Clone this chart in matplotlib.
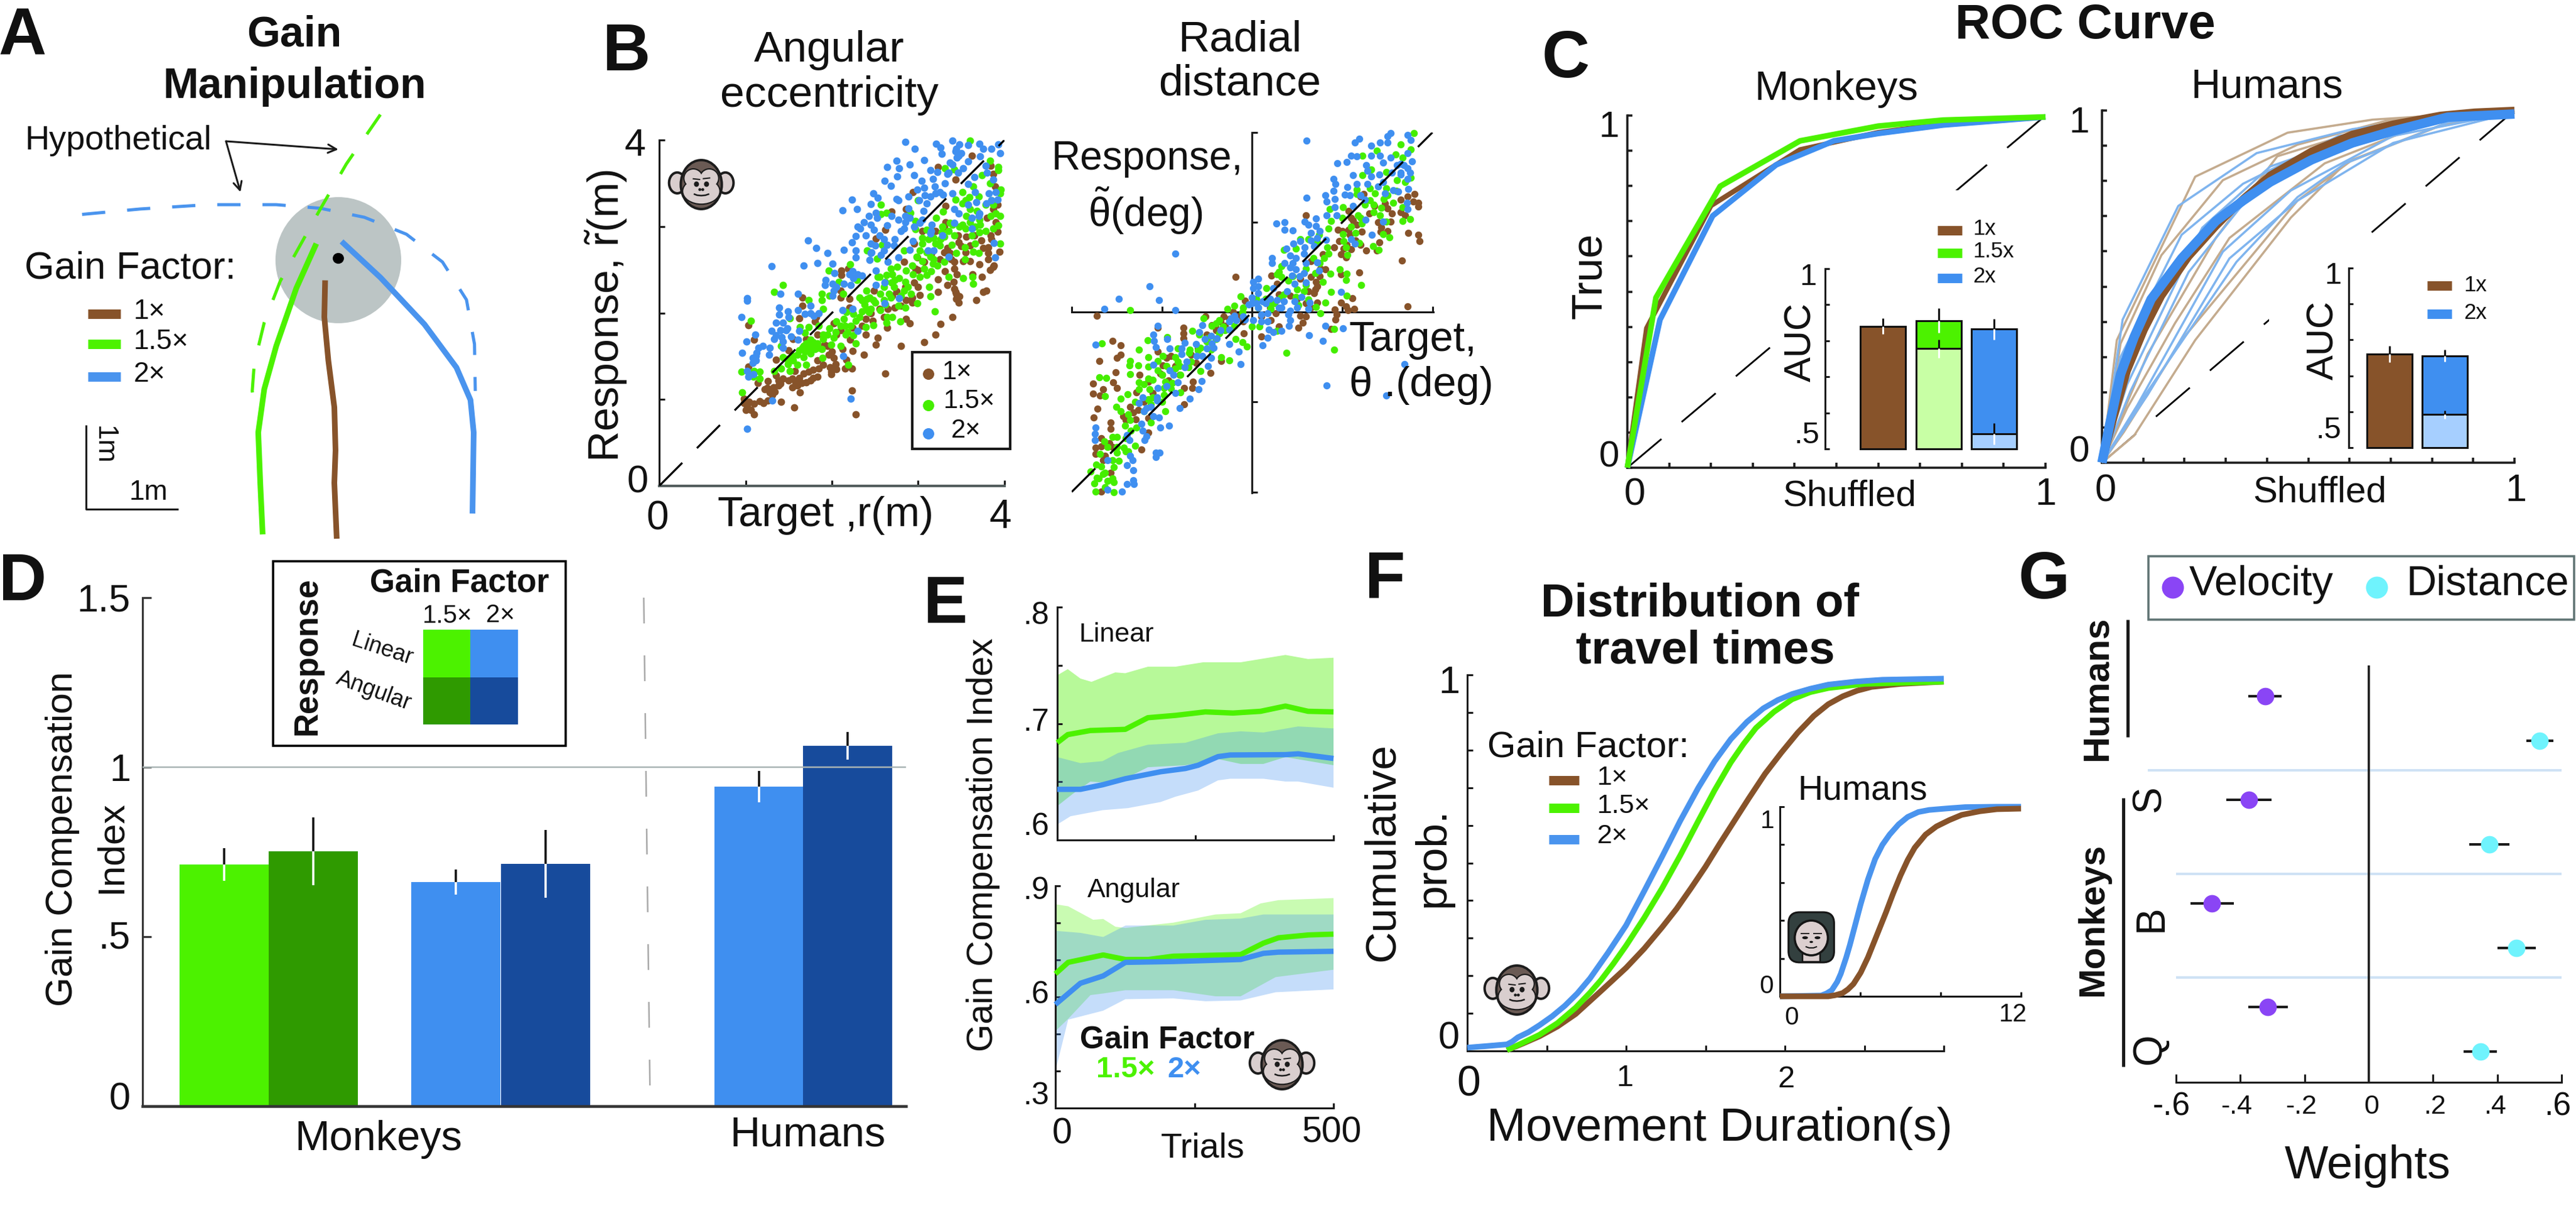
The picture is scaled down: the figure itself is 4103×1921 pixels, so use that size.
import numpy as np
import matplotlib
matplotlib.use('Agg')
import matplotlib.pyplot as plt
from matplotlib.patches import Ellipse, Circle, Rectangle, FancyBboxPatch

plt.rcParams['font.family'] = ['Liberation Sans', 'DejaVu Sans']
plt.rcParams['mathtext.fontset'] = 'custom'
plt.rcParams['mathtext.rm'] = 'Liberation Sans'
plt.rcParams['mathtext.it'] = 'Liberation Sans:italic'
plt.rcParams['mathtext.bf'] = 'Liberation Sans:bold'
plt.rcParams['lines.scale_dashes'] = False
plt.rcParams['lines.solid_capstyle'] = 'butt'
plt.rcParams['lines.dash_capstyle'] = 'butt'

W, H = 4103, 1921
P = 0.72  # pixels to points at dpi 100

BROWN, GREEN, BLUE = '#87532a', '#4cf200', '#3f8ff0'
DGREEN, DBLUE = '#2f9a00', '#174b9c'
LGREEN, LBLUE = '#c8ffa5', '#a6cfff'
TBROWN, TBLUE = '#c4ab8e', '#7fb4ee'
PURPLE, CYAN = '#8a45f5', '#6ff3fd'
INK = '#1a1a1a'

# ---------- Panel A: schematic trajectories ----------
a_dash_blue = [(205,595),(350,580),(520,568),(690,568),(800,578),(910,603),(1015,650),(1105,727),(1165,832),(1185,955),(1187,1085)]
a_dash_green = [(950,318),(865,455),(800,580),(700,780),(660,895),(635,1010),(630,1085),(637,1140)]
a_green = [(790,676),(740,800),(690,960),(660,1080),(645,1200),(650,1340),(656,1483)]
a_brown = [(812,778),(810,880),(820,1000),(835,1130),(838,1250),(835,1340),(841,1495)]
a_blue = [(853,670),(950,770),(1060,900),(1140,1020),(1175,1110),(1183,1200),(1180,1425)]

# ---------- Panel B: response vs target ----------
br_blue = [(2.85,3.98),(2.96,3.90),(3.21,3.96),(3.26,3.91),(3.27,3.84),(3.40,3.99),(3.48,3.95),(3.43,3.87),(3.47,3.82),(3.58,3.94),(3.71,3.96),(3.75,3.90),(3.85,3.90),(3.93,3.95),(3.95,3.85),(3.72,3.81),(3.58,3.75),(3.37,3.74),(3.07,3.77),(2.75,3.76),(2.90,3.72),(2.64,3.69),(2.78,3.67),(2.76,3.58),(2.61,3.53),(2.68,3.47),(2.95,3.59),(3.14,3.65),(3.04,3.53),(3.17,3.55),(3.22,3.63),(3.34,3.61),(3.46,3.62),(3.52,3.67),(3.78,3.70),(3.80,3.62),(3.87,3.54),(3.65,3.57),(3.58,3.49),(3.31,3.50),(3.19,3.46),(2.99,3.43),(3.07,3.45),(3.14,3.35),(3.29,3.37),(3.40,3.38),(3.66,3.40),(3.82,3.38),(3.92,3.31),(3.79,3.27),(3.67,3.28),(3.58,3.25),(3.71,3.15),(3.42,3.20),(3.47,3.15),(3.06,3.18),(3.01,3.30),(2.89,3.35),(2.77,3.30),(2.89,3.21),(2.48,3.38),(2.53,3.33),(2.45,3.26),(2.23,3.31),(2.12,3.19),(2.29,3.20),(2.51,3.16),(2.43,3.12),(2.37,3.05),(2.69,3.12),(2.77,3.08),(2.85,3.12),(3.02,3.04),(3.16,3.02),(3.42,3.04),(3.62,2.98),(3.14,2.92),(2.84,2.98),(2.64,3.01),(2.49,2.96),(2.33,2.98),(2.39,2.90),(2.28,2.89),(2.23,2.82),(2.45,2.80),(2.60,2.85),(2.73,2.85),(2.64,2.79),(2.94,2.83),(2.90,2.73),(3.18,2.72),(3.11,2.72),(3.35,2.65),(3.88,2.81),(3.89,2.64),(1.72,2.84),(1.82,2.75),(2.14,2.73),(2.28,2.72),(1.95,2.69),(2.45,2.69),(2.57,2.67),(2.77,2.64),(2.28,2.64),(2.44,2.61),(2.65,2.59),(1.30,2.54),(1.67,2.55),(1.83,2.58),(2.01,2.57),(2.24,2.48),(2.03,2.46),(2.51,2.49),(2.35,2.43),(1.93,2.38),(1.92,2.32),(2.14,2.34),(2.22,2.32),(2.01,2.34),(2.51,2.32),(2.61,2.35),(2.02,2.26),(2.01,2.20),(1.40,2.22),(1.61,2.22),(1.02,2.17),(1.02,2.14),(2.78,2.17),(2.61,2.11),(1.39,2.06),(1.49,2.02),(1.61,2.03),(1.75,2.08),(1.39,1.98),(1.69,1.99),(1.79,1.97),(2.12,2.03),(2.24,2.05),(.95,1.95),(1.35,1.89),(1.43,1.89),(1.47,1.80),(1.30,1.79),(1.40,1.80),(1.62,1.79),(1.35,1.74),(1.53,1.73),(2.30,1.79),(1.11,1.75),(1.01,1.67),(1.43,1.67),(1.61,1.69),(1.43,1.60),(1.15,1.60),(1.28,1.60),(.96,1.54),(1.13,1.54),(1.08,1.48),(1.27,1.52),(1.12,1.45),(2.13,1.50),(1.02,1.33),(1.09,1.29),(1.03,1.26),(1.31,.99),(2.22,1.01),(1.02,.66),
           (3.44,3.90),(3.50,3.85),(3.45,3.80),(3.40,3.72),(3.35,3.62),(3.25,3.40),(3.20,3.38),(3.08,3.36),(3.10,3.27),(3.62,3.10),(3.70,3.12),(3.85,3.30),(3.90,3.40),(3.05,3.08),(2.95,3.00),(2.85,3.05),(2.80,2.95),(2.90,3.10),(2.55,2.90),(2.50,2.78),(2.46,2.70),(2.60,2.72),(2.30,3.00),(2.45,3.02),(2.52,3.10),(2.75,3.32),(2.72,2.78),(3.15,2.95),(3.28,2.90),(2.20,2.45),(2.25,2.40),(2.30,2.45),(2.05,2.30),(1.75,2.00),(1.85,2.00),(1.50,1.95),(1.48,1.82),(1.42,1.72),(1.33,1.70),(1.12,1.50),(1.08,1.42),(1.20,1.62)]
br_green = [(3.60,3.99),(3.93,3.69),(3.83,3.76),(3.42,3.66),(3.31,3.67),(3.93,3.65),(3.74,3.59),(3.64,3.46),(3.51,3.40),(3.96,3.43),(3.95,3.38),(3.83,3.50),(3.59,3.34),(3.43,3.31),(3.51,3.27),(3.87,3.25),(3.00,3.30),(2.57,3.25),(2.63,3.16),(2.57,3.14),(2.91,3.16),(3.95,3.12),(3.84,3.12),(3.71,3.08),(3.56,3.12),(3.29,3.17),(3.21,3.10),(3.37,3.04),(3.51,3.02),(2.97,3.06),(3.10,2.96),(2.97,2.97),(3.93,3.01),(3.87,2.98),(3.71,2.93),(3.55,2.98),(3.42,2.90),(3.27,2.93),(3.18,2.87),(3.05,2.87),(3.26,2.85),(3.66,2.80),(3.39,2.79),(3.95,2.80),(3.54,2.76),(3.44,2.69),(3.64,2.71),(3.70,2.69),(3.02,2.72),(3.14,2.65),(2.84,2.72),(2.58,2.79),(2.41,2.72),(2.52,2.63),(3.54,2.62),(3.30,2.59),(2.93,2.55),(3.17,2.57),(2.76,2.53),(3.07,2.51),(3.15,2.48),(2.21,2.56),(2.68,2.51),(2.86,2.49),(1.96,2.49),(2.94,2.45),(3.02,2.42),(3.35,2.42),(3.63,2.42),(3.52,2.40),(3.10,2.44),(2.63,2.44),(2.53,2.42),(2.29,2.38),(2.08,2.36),(2.73,2.38),(2.85,2.36),(3.64,2.34),(2.69,2.35),(1.43,2.32),(1.33,2.24),(1.88,2.22),(1.97,2.20),(2.13,2.22),(2.40,2.26),(3.13,2.30),(2.56,2.22),(2.84,2.26),(3.14,2.19),(2.32,2.18),(2.41,2.16),(2.68,2.18),(1.88,2.15),(1.73,2.15),(2.48,2.15),(2.99,2.11),(2.60,2.15),(2.77,2.08),(2.85,2.06),(1.90,2.05),(3.19,2.02),(2.17,2.01),(2.43,2.01),(2.25,1.99),(2.56,2.03),(1.51,1.94),(1.06,1.91),(2.64,1.95),(2.70,1.95),(2.14,1.93),(2.28,1.91),(2.79,1.90),(2.63,1.89),(2.48,1.86),(2.39,1.84),(1.63,1.84),(1.73,1.84),(1.97,1.82),(2.15,1.85),(2.04,1.78),(2.16,1.75),(1.69,1.77),(1.90,1.75),(2.25,1.74),(2.02,1.71),(1.75,1.69),(1.90,1.70),(2.28,1.65),(1.67,1.62),(1.83,1.65),(1.78,1.60),(1.99,1.63),(2.10,1.62),(1.41,1.62),(1.71,1.57),(1.62,1.57),(1.88,1.58),(1.75,1.53),(1.43,1.49),(1.67,1.49),(1.89,1.48),(1.55,1.45),(1.49,1.41),(1.60,1.40),(1.70,1.40),(1.41,1.36),(2.19,1.40),(1.33,1.33),(1.51,1.33),(.95,1.32),(1.10,1.33),(1.16,1.32),(1.09,1.26),(1.16,1.24),(.96,1.08),
            (1.70,1.65),(1.72,1.60),(1.78,1.66),(1.66,1.60),(1.75,1.63),(1.80,1.58),(1.69,1.55),(1.60,1.52),(1.55,1.50),(1.48,1.47),(1.84,1.60),(2.35,2.15),(2.38,2.10),(2.44,2.18),(2.50,2.12),(2.62,2.10),(2.66,2.22),(2.72,2.30),(2.60,2.30),(2.55,2.42),(2.62,2.36),(2.70,2.45),(2.78,2.40),(2.88,2.30),(2.92,2.22),(2.80,2.20),(2.45,2.05),(2.35,2.02),(3.05,2.80),(3.12,2.85),(3.20,2.80),(3.25,2.78),(3.30,2.88),(3.35,2.95),(3.28,3.00),(3.40,3.02),(3.48,3.00),(3.60,3.05),(3.66,3.00),(3.72,3.02),(3.78,2.95),(3.60,3.20),(3.68,3.18),(3.55,3.30),(3.70,3.35),(3.78,3.25),(3.85,3.30),(3.90,3.15),(3.62,2.90),(3.10,2.70),(3.18,2.62),(3.22,2.55),(3.05,2.60),(2.98,2.65),(2.10,1.85),(2.18,1.78),(2.22,1.85),(2.05,1.90),(1.95,1.75),(1.85,1.85),(2.32,1.95),(2.40,2.05)]
br_brown = [(3.62,3.82),(3.23,3.69),(3.84,3.70),(3.43,3.54),(2.94,3.40),(3.87,3.61),(3.89,3.46),(2.69,3.17),(2.86,3.20),(3.32,3.24),(3.87,3.20),(3.32,3.05),(3.92,2.94),(3.84,2.90),(3.30,3.00),(3.46,2.90),(3.56,2.88),(3.73,2.84),(2.51,2.86),(2.62,2.96),(3.47,2.82),(3.94,2.71),(3.81,2.76),(3.81,2.69),(3.34,2.75),(3.50,2.77),(3.37,2.69),(2.99,2.64),(3.81,2.62),(3.42,2.59),(3.87,2.53),(3.71,2.56),(2.84,2.59),(2.97,2.51),(3.07,2.59),(3.42,2.51),(2.11,2.49),(2.19,2.51),(3.31,2.48),(2.11,2.44),(3.74,2.42),(3.23,2.39),(3.41,2.36),(3.34,2.32),(3.63,2.45),(3.00,2.30),(2.49,2.26),(2.10,2.26),(3.23,2.24),(3.02,2.21),(3.79,2.26),(3.75,2.24),(3.43,2.24),(3.48,2.19),(3.44,2.16),(1.66,2.18),(2.20,2.16),(2.10,2.18),(2.93,2.18),(2.86,2.15),(2.93,2.12),(3.67,2.15),(1.66,2.08),(2.55,2.05),(2.73,2.06),(2.20,2.06),(2.65,2.05),(1.62,1.94),(3.40,1.95),(1.80,1.90),(2.86,1.93),(2.90,1.88),(2.02,1.88),(3.26,1.87),(2.39,1.93),(2.47,1.91),(1.03,1.86),(2.24,1.83),(2.64,1.83),(1.83,1.75),(2.39,1.75),(3.20,1.75),(1.10,1.69),(2.53,1.71),(2.21,1.69),(3.07,1.66),(2.51,1.63),(2.80,1.62),(1.50,1.57),(2.12,1.58),(2.24,1.56),(1.96,1.52),(2.37,1.52),(1.35,1.46),(2.02,1.48),(1.91,1.63),(2.04,1.41),(1.83,1.45),(2.17,1.46),(1.03,1.38),(1.98,1.37),(2.15,1.36),(2.23,1.36),(1.99,1.32),(1.57,1.33),(1.78,1.34),(1.73,1.32),(2.62,1.30),(1.67,1.30),(1.99,1.29),(1.83,1.26),(1.62,1.25),(1.54,1.24),(1.43,1.24),(1.38,1.22),(1.75,1.22),(1.26,1.21),(1.58,1.20),(1.65,1.19),(1.14,1.19),(1.25,1.13),(1.38,1.16),(1.54,1.14),(1.34,1.09),(1.63,1.08),(2.23,1.10),(1.31,1.05),(.98,1.01),(1.16,.98),(1.21,.96),(1.26,.99),(1.41,.97),(1.04,.97),(1.00,.88),(1.06,.88),(1.56,.91),(1.10,.83),(2.28,.83),
            (3.45,2.45),(3.38,2.62),(3.30,2.70),(3.25,2.62),(3.15,2.68),(3.52,2.60),(3.55,2.70),(3.60,2.78),(3.65,2.90),(3.75,2.75),(3.85,2.85),(3.90,3.05),(3.92,3.25),(3.80,3.10),(3.60,2.60),(3.20,2.95),(3.05,2.95),(2.95,2.80),(3.88,2.55),(3.83,2.50),(3.44,2.22),(3.42,2.28),(3.47,2.12),(2.95,2.35),(3.00,2.50),(2.85,2.30),(2.75,2.25),(2.60,1.95),(2.45,2.00),(2.35,1.85),(2.10,1.80),(2.05,1.75),(1.95,1.62),(2.00,1.55),(1.90,1.40),(1.85,1.36),(2.05,1.35),(1.78,1.25),(1.70,1.20),(1.60,1.16),(1.50,1.22),(1.40,1.18),(1.32,1.14),(1.28,1.08),(1.22,1.12),(1.10,.95),(1.02,.92),(.98,.96),(1.35,1.28),(1.55,1.50),(1.70,1.70),(1.82,1.95),(1.55,1.70),(2.35,2.15),(2.70,2.20),(2.80,2.08)]

bt_blue = [(12.1,38.2),(30.8,39.9),(30,39.1),(34.5,39.4),(35.2,38.3),(23.8,38.6),(22.8,37.8),(26.4,37),(28.4,37.8),(30,37.7),(26.4,34.9),(28.4,34.8),(30.8,34.4),(21.9,34.8),(18.9,33.2),(21,33.5),(23.2,34.7),(29,33.3),(34.5,35.4),(35.5,33.6),(33.7,32.8),(25.3,32.8),(25.6,31.5),(32.1,32.8),(28.2,30.7),(22.4,30.5),(26.4,30.2),(34.5,32),(32.9,30.7),(34.5,29.7),(18,29.7),(18.5,28.6),(23.2,28.6),(25.6,28.6),(21.1,27.9),(18.1,27),(34.6,27.4),(31.3,27.2),(32.4,26.9),(29.5,26.5),(20.6,26.1),(21.7,26),(16.3,26),(12.1,25.4),(16.5,24.7),(18.3,25.2),(34.3,24.4),(34.5,22.9),(18.3,23.4),(22.4,23.7),(16.5,21.5),(18.8,21.6),(25.1,20.6),(29,20.2),(5.4,19.7),(7.2,20),(7.2,18.4),(9,18.2),(11.7,20.1),(12.5,19.5),(14.1,20.8),(14.1,19.2),(13.1,17.6),(26.6,17.2),(10.7,15.8),(9.1,15.2),(16.4,16.1),(21.9,16.3),(22.8,15.2),(13.8,14.7),(7.6,14.1),(11.7,14.4),(11.5,13.1),(8.4,12.6),(9.7,12.1),(4.4,12.1),(4.4,11),(14.4,11.1),(7.2,11),(8.4,10),(9.7,9.5),(11.5,8.7),(14.8,9.3),(8.9,8.1),(11.9,6.6),(1.3,7.5),(.3,6.8),(1.3,5.8),(.3,5.3),(9.4,6.3),(7.8,4.7),(4.7,5.4),(1.3,4.2),(19.8,4.5),(11,3.4),(0,3.2),(-.8,1.7),(5.5,2.7),(2.3,2.4),(7,2.4),(9.4,2.4),(12.8,2.1),(12.5,.8),(6.5,1),(8.4,.3),(1.3,1),(2.1,-.5),(.3,-1.8),(3.4,-.3),(8.4,-1.8),(3.4,-2),(8.2,-3),(2.1,-2.1),(3.7,-3.9),(4.7,-4.5),(6.5,-4.1),(16.3,-3),(20.1,-3.6),(12.7,-5.1),(15.7,-6.4),(3.4,-5.7),(2.3,-7.4),(-1.6,-1.6),(-4.7,-1.3),(-20.6,2.7),(-22.7,5.7),(-29.6,3),(-32.7,.8),(-17,13.1),(-17,.4),(-20.9,-3),(-5,-3.9),(-11,-2.9),(-11.8,-4.5),(-9.1,-5.2),(-7.8,-5.8),(-5.1,-7.1),(-3,-8.7),(-2.6,-11.5),(-21.9,-5),(-21.7,-6.4),(-21.3,-7.8),(-18.9,-6),(-18.3,-8.1),(-34.7,-7.2),(-14.9,-6.8),(-12.5,-7.1),(-8.6,-7.9),(-15.7,-8.1),(-15.7,-9.3),(-12.3,-9.7),(-11,-9.7),(-9.1,-10.2),(-9.8,-12),(-21.9,-11.7),(-18.3,-12.9),(-15,-12.2),(-11.2,-15.3),(-11.9,-17.2),(-16.5,-15.6),(-13.8,-19.2),(-20.9,-16.8),(-17,-18),(-21.1,-19.7),(-24.3,-18.9),(-25.1,-20.2),(-23.5,-21.4),(-16.1,-21.3),(-21.9,-23.1),(-20.6,-23.4),(-24.6,-24.8),(-20.4,-25.6),(-18.4,-25.3),(-34.7,-25.7),(-24.3,-26.3),(-34.9,-27),(-23.5,-27.6),(-23.9,-28.5),(-27.8,-27.3),(-27.2,-28.4),(-34.8,-28.5),(-21.3,-31.2),(-21.3,-32.3),(-20.5,-31.2),(-32.1,-33),(-27.1,-32),(-26.5,-33),(-27.8,-34),(-26.3,-35.2),(-26.3,-37.4),(-27.8,-38.2),(-26.2,-38.3),(-32.1,-39.5),(-28.9,-39.9),(16.5,-16.3),(29.8,-18.5),(33.8,-11.5),
           (-2,-1),(-3.5,-1.8),(-4,-.8),(-5,-2),(-7,-4),(-9,-7),(-10,-8),(-10.5,-6),(0,2),(1,2),(3,2),(4,3),(6,1),(8,-.5),(10,1),(10.5,8),(9,11),(12,11),(13,16),(14.5,16.5),(15,18),(24,26),(25,25),(28,28),(29,29),(31,31),(33,31),(35,31),(33,33),(-24,-22),(-21,-19),(-19,-16.5),(-22.5,-21),(-17.5,-14),(-14.5,-11)]
bt_green = [(35.9,39.9),(33,37.4),(27.7,36),(24.5,34.8),(31.9,35.1),(35.2,36.2),(33.4,34.4),(26.4,31.8),(24.5,30.5),(29.8,31.2),(32.1,29.4),(35.2,29.9),(23.2,27.3),(26.1,27.6),(29.8,27.6),(27.2,26.5),(29.2,25.2),(31.3,24.3),(26.1,24.9),(23.2,26.3),(20.1,23.4),(28.7,23.2),(33.4,23.4),(27,22.3),(17.2,23),(28.4,21.6),(23.5,21.6),(17.5,20.3),(33.4,20.3),(35,20.7),(29.8,20.2),(24.3,19.8),(17,18.6),(23,17.7),(20.1,17.3),(29.1,17.3),(30.5,16.7),(14.9,17.2),(12.5,16.3),(10.7,16.3),(20.3,15.8),(23.8,15.4),(14.4,15.5),(16.7,14.4),(20.9,14.4),(26.9,14.7),(28.1,13.9),(9.7,14.2),(7,13.9),(21.1,12.7),(13.6,12.1),(19.5,9.6),(21,8.5),(20.9,7.2),(6.5,10.2),(12,9.7),(17.4,8.6),(5.5,8.4),(6.5,7.9),(14,8.7),(15.7,6.7),(24.2,6),(11.5,4.7),(3.1,5.3),(17.5,4.5),(21,3.7),(-2.6,3.6),(9.7,3.4),(6.3,3.2),(16.2,2.1),(12.5,2.9),(3.9,1.8),(-3.9,1.4),(14.2,1.2),(10.2,1.6),(-5.5,.8),(1.3,1),(4.2,.8),(15.2,-.2),(-27.1,.5),(0,-3.2),(1.6,-3.2),(18.2,-3.7),(-2.1,0),(5.5,-4.2),(-10.7,-1.3),(-7.3,-1.8),(-13.3,-4.2),(-6.5,-3.2),(-11.8,-5),(-7.3,-4.7),(-3.7,-6),(-2.1,-6.6),(-1.1,-7.6),(7.6,-9.1),(18.2,-8.4),(-9.9,-5.8),(-23.2,-6.3),(-18.8,-5.5),(-33.3,-7),(-25.1,-8.4),(-16.4,-8.1),(-13.8,-8.3),(-11.5,-7.9),(-9.1,-8.4),(-23,-10),(-19.8,-9.7),(-20.9,-10.8),(-6.9,-10),(-5.1,-10.7),(-27.1,-10.9),(-27.2,-11.8),(-25.3,-11.8),(-23,-12.1),(-16.4,-11),(-13.6,-11),(-17,-12.6),(-14.1,-12.3),(-20.9,-12.9),(-15.9,-13.9),(-27.1,-13.8),(-11.5,-13.1),(-33.9,-14.5),(-32.4,-14.6),(-23,-14.8),(-25.1,-15.6),(-19.3,-15.5),(-17.7,-15.7),(-25.1,-17.1),(-22.7,-17.2),(-19.6,-16.8),(-27.6,-18.3),(-32.6,-18.7),(-19.6,-18.4),(-15.9,-17.8),(-29.2,-19.3),(-23,-19.4),(-30.1,-21),(-22.5,-20.5),(-19.3,-22.1),(-29.2,-22.1),(-27.4,-22.8),(-22.4,-24.6),(-28.2,-25.2),(-25.6,-25.7),(-26.9,-26.3),(-30,-27.7),(-31,-27.8),(-32.8,-28.7),(-28.4,-30.2),(-26,-29.7),(-30,-31.2),(-33.7,-31.5),(-27.4,-31),(-29.5,-33.1),(-34.6,-33.9),(-30.7,-34.5),(-33.4,-34.4),(-35.8,-35.4),(-32.6,-35.7),(-34.5,-36.8),(-32.1,-37.5),(-30.7,-37.8),(-35,-38.1),(-32.6,-38.9),(-34.7,-39.9),(-30.7,-40),
            (-33,-36),(-31,-33),(-34,-37),(-30,-30),(-28,-28),(-27,-24),(-24,-22),(-22,-19),(-24,-16),(-20,-14),(-18,-13),(-16,-12),(-19,-12),(-17,-10),(-14,-9),(-12,-8.5),(-10,-6.5),(-8,-6),(-6,-4),(-4,-3),(-9,-3),(-8,-2.5),(-2,1),(1,3),(3,3),(5,2),(7,4),(8,7),(9,8),(6,9),(10,5),(12,6),(15,11),(17,13),(16,12),(22,19),(24,21),(25,24),(27,24),(30,26),(32,27),(34,29),(20,21),(-26,-20),(-22,-15),(-20,-20),(-18,-17),(-28,-31),(-32,-30),(-31,-37)]
bt_brown = [(36,26.3),(34.5,25.8),(35.8,24.7),(36.8,24.3),(36.8,23.5),(33,22.3),(29.5,24.2),(27.1,23.6),(30,23.1),(34,21.6),(30.8,20.2),(24,25.8),(24.8,26.3),(21.4,22.6),(11.9,21.5),(22.4,20.5),(23.2,19.4),(28.7,18.9),(19.1,18.4),(21.4,18.4),(24.3,17.9),(34.6,17.7),(36.9,17.2),(37.2,15.8),(28.5,17.9),(21.7,17.2),(19.3,15.8),(28.2,15.5),(18.2,14.5),(25.3,13.7),(27.7,13.7),(20.3,14.2),(15.7,12.9),(19.8,12.9),(20.9,12.2),(33.3,11.5),(13.1,11.3),(16.2,9.5),(15.1,9.7),(23.8,8.9),(19.7,8.4),(-3.7,7.9),(13.1,7.9),(4.3,8.2),(14.1,6.8),(10.7,7.4),(14.4,5.8),(5.5,6.3),(13.8,4.2),(12.5,4.7),(8.4,3.7),(22.2,3.1),(19.8,2.1),(-1.6,2.6),(14.4,2.1),(20.9,1.3),(34.5,1.3),(22.7,.8),(18.3,.6),(21.2,.5),(5.2,-.3),(10.7,-.8),(18.7,-.5),(18.5,-1.6),(4.2,-1.8),(11.2,-2.4),(10.3,-3.4),(17.5,-3.8),(6,-3.2),(2,-5.4),(-34.4,-.8),(-20.9,-3.4),(-15.2,-3.4),(-10.4,-1),(-8.9,-2.9),(-6.3,-1),(-4.2,0),(-3.1,-1),(-15.2,-4.7),(-15.2,-5.8),(-8.1,-3.2),(-1.8,-4.7),(-30.9,-6.4),(-29.1,-7.4),(-20.9,-8.7),(-29.1,-9.4),(-30,-10.1),(-18,-9.7),(-13.6,-9.4),(-19,-10.2),(-33.9,-10.9),(-6.8,-10.8),(-19.8,-11.8),(-12.5,-11.3),(-20.4,-13.7),(-30.2,-13.4),(-9.2,-13.5),(-25,-14),(-23,-15.5),(-30.8,-15.6),(-35.3,-15.9),(-13.1,-15.5),(-30,-16.9),(-15.1,-16.8),(-13.2,-16.9),(-33.1,-17.1),(-35.2,-18.1),(-33.7,-18.5),(-25.6,-17.9),(-18.5,-15.2),(-15.1,-20.5),(-34.3,-21.5),(-25.3,-21.8),(-26.4,-22.3),(-28.6,-23.1),(-35.1,-23.4),(-23,-23.6),(-25.8,-23.9),(-31.3,-24.5),(-31.3,-26),(-23,-26.8),(-33.4,-28.1),(-34.7,-30.1),(-31.6,-29.1),(-33.4,-29.8),(-24.5,-30.6),(-34.7,-31.5),(-31.3,-35.7),(-33.4,-39.9),(-32.6,-32),
            (-33,-33),(-31,-30),(-28,-24),(-27,-21),(-24,-20),(-22,-18),(-20,-14),(-17,-12),(-16,-14),(-12,-8),(-10,-5),(-8,-4),(-7,-2),(-6,-3),(-5,-1.5),(-2,-2),(2,-1),(4,1),(6,4),(10,3),(12,2),(13,1),(12,-1),(14,5),(15,8),(22,14),(21,15),(23,16),(24,15),(26,22),(28,20),(30,18),(31,22),(33,25),(22,21),(20,18)]

# ---------- Panel C: ROC curves ----------
roc_m = {
    'brown': ([0,.046,.20,.413,.60,.755,1], [0,.396,.744,.903,.952,.976,.996]),
    'blue': ([0,.078,.204,.356,.494,.60,.755,1], [0,.42,.715,.86,.928,.949,.973,.996]),
    'green': ([0,.0685,.222,.413,.60,.755,1], [0,.483,.799,.928,.970,.987,.996]),
}
roc_h_brown = ([0,.028,.061,.102,.144,.21,.276,.342,.408,.508,.607,.706,.821,.904,1], [0,.126,.261,.377,.473,.585,.671,.749,.816,.884,.932,.961,.986,.995,1])
roc_h_blue = ([0,.02,.045,.078,.119,.193,.276,.342,.408,.508,.607,.706,.838,1], [0,.116,.251,.357,.464,.58,.686,.744,.797,.86,.908,.942,.981,.99])
roc_h_thin_brown = [
    ([0,.036,.226,.45,.656,1], [0,.348,.812,.937,.974,1]),
    ([0,.045,.144,.293,.474,.705,1], [0,.338,.589,.802,.903,.976,1]),
    ([0,.061,.177,.309,.54,.772,1], [0,.155,.396,.638,.85,.957,1]),
    ([0,.053,.193,.474,.607,.838,1], [0,.087,.348,.744,.86,.966,1]),
    ([0,.078,.226,.458,.59,.821,1], [0,.077,.348,.696,.85,.957,1]),
    ([0,.111,.276,.425,.706,1], [0,.309,.638,.87,.971,1]),
]
roc_h_thin_blue = [
    ([0,.05,.185,.375,.607,.838,1], [0,.406,.729,.879,.947,.986,.995]),
    ([0,.045,.193,.342,.574,1], [0,.3,.647,.792,.928,.995]),
    ([0,.069,.21,.408,.64,1], [0,.203,.541,.831,.942,.995]),
    ([0,.086,.293,.458,.706,1], [0,.164,.599,.773,.928,.995]),
    ([0,.094,.326,.474,.59,.838,1], [0,.174,.57,.754,.85,.966,.995]),
    ([0,.061,.243,.408,.656,1], [0,.222,.667,.841,.942,.995]),
    ([0,.111,.309,.474,.706,1], [0,.193,.58,.744,.908,.995]),
]
auc_m = [.84, .856, .832]
auc_m_err = [.022, .034, .029]
auc_m_shuf = [None, .778, .542]
auc_m_shuf_err = [None, .026, .03]
auc_h = [.76, .756]
auc_h_err = [.023, .017]
auc_h_shuf = [None, .592]
auc_h_shuf_err = [None, .011]

# ---------- Panel D: gain compensation ----------
d_pos = [.916, 1.916, 3.515, 4.519, 6.91, 7.906]
d_val = [.713, .751, .661, .715, .942, 1.063]
d_err = [.048, .10, .037, .10, .046, .041]
d_col = [GREEN, DGREEN, BLUE, DBLUE, BLUE, DBLUE]

# ---------- Panel E: index over trials ----------
e1_g_x = [0,19,60,123,164,214,268,318,368,413,454,500]
e1_g_y = [.6835,.6905,.694,.695,.705,.707,.710,.709,.7105,.715,.7105,.710]
e1_b_x = [0,42,82,123,187,232,255,291,313,413,436,500]
e1_b_y = [.6435,.6435,.6474,.6526,.6586,.6614,.6642,.6716,.673,.6733,.674,.670]
e1_gu_x = [0,19,42,62,105,123,164,214,264,332,413,454,500]
e1_gu_y = [.7414,.7467,.7386,.7358,.7439,.7432,.7488,.7488,.7526,.7526,.7589,.7554,.7565]
e1_gl_x = [0,28,60,105,164,232,291,332,373,413,500]
e1_gl_y = [.6291,.6396,.6502,.6484,.6625,.6642,.6695,.6653,.6653,.6712,.6642]
e1_bu_x = [0,42,82,110,164,232,291,332,373,436,500]
e1_bu_y = [.6712,.666,.6677,.6747,.6818,.6835,.6916,.6933,.6923,.6975,.6958]
e1_bl_x = [0,24,82,128,187,214,255,291,313,373,413,436,500]
e1_bl_y = [.6133,.6204,.6256,.6274,.6326,.6372,.6425,.6512,.6526,.6526,.6502,.6502,.6449]
e2_g_x = [0,23,86,126,167,212,333,374,401,455,500]
e2_g_y = [.6624,.6934,.7133,.7011,.7011,.71,.7144,.7453,.7597,.7674,.7696]
e2_b_x = [0,45,86,126,212,333,374,401,500]
e2_b_y = [.5796,.637,.6569,.6934,.6956,.7011,.7177,.721,.7232]
e2_gu_x = [0,23,68,86,108,126,212,288,333,369,401,500]
e2_gu_y = [.8503,.8448,.8083,.8105,.7895,.7862,.8006,.8227,.826,.8525,.8613,.8669]
e2_gl_x = [0,23,63,86,126,212,288,333,396,500]
e2_gl_y = [.5077,.5409,.605,.6094,.6182,.6182,.6017,.6017,.6536,.6735]
e2_bu_x = [0,45,86,126,212,270,333,374,500]
e2_bu_y = [.7785,.773,.7619,.7928,.7928,.8083,.8116,.8227,.8227]
e2_bl_x = [0,23,86,126,212,270,333,396,500]
e2_bl_y = [.3994,.5387,.563,.594,.5961,.5884,.5906,.6127,.6204]

# ---------- Panel F: travel times ----------
f_blue_x = [0,.25,.284,.318,.386,.455,.534,.614,.693,.773,.886,1.0,1.114,1.227,1.341,1.455,1.557,1.659,1.761,1.864,1.955,2.045,2.159,2.273,2.443,2.614,3.0]
f_blue_y = [.0087,.0174,.025,.036,.050,.0685,.092,.120,.153,.193,.261,.334,.425,.517,.612,.700,.770,.829,.875,.911,.933,.949,.963,.974,.982,.987,.990]
f_green_x = [.25,.352,.455,.568,.682,.773,.841,.920,1.0,1.114,1.227,1.341,1.455,1.557,1.659,1.739,1.818,1.932,2.045,2.159,2.273,2.5,3.0]
f_green_y = [.002,.022,.043,.074,.115,.155,.188,.232,.280,.354,.433,.520,.612,.693,.767,.816,.859,.902,.935,.954,.965,.976,.982]
f_brown_x = [.25,.352,.455,.568,.682,.841,1.0,1.114,1.227,1.318,1.409,1.5,1.591,1.682,1.773,1.875,1.977,2.08,2.182,2.273,2.364,2.455,2.545,2.727,3.0]
f_brown_y = [.002,.02,.039,.065,.098,.159,.221,.272,.329,.378,.433,.490,.552,.612,.672,.737,.793,.846,.891,.922,.943,.958,.968,.976,.982]
fi_blue_x = [0,2.05,2.32,2.58,2.85,3.03,3.30,3.48,3.75,4.02,4.38,4.74,5.1,5.46,5.91,6.36,6.89,7.43,8.33,9.23,10.8,12]
fi_blue_y = [0,.004,.015,.032,.076,.119,.205,.27,.378,.486,.616,.724,.799,.853,.907,.946,.972,.983,.991,.998,1.0,1.0]
fi_brown_x = [0,2.41,2.76,3.12,3.39,3.66,4.02,4.38,4.83,5.28,5.64,6.0,6.36,6.71,7.25,7.79,8.42,9.05,9.95,10.8,12]
fi_brown_y = [0,0,.006,.017,.037,.065,.125,.205,.324,.443,.544,.637,.719,.784,.853,.896,.929,.957,.976,.987,.99]

# ---------- Panel G: weights ----------
g_vel = [-.323, -.373, -.488, -.314]
g_vel_err = [.052, .07, .067, .061]
g_vel_row = [3.73, 2.73, 1.73, .73]
g_dist = [.532, .375, .46, .347]
g_dist_err = [.042, .062, .059, .052]
g_dist_row = [3.30, 2.30, 1.30, .30]
g_sep = [3.01, 2.01, 1.01]

fig = plt.figure(figsize=(W/100, H/100), dpi=100, facecolor='white')

def axpx(l, t, r, b, z=1):
    ax = fig.add_axes([l/W, 1-b/H, (r-l)/W, (b-t)/H], zorder=z)
    ax.patch.set_visible(False)
    for s in ('top', 'right'):
        ax.spines[s].set_visible(False)
    return ax

def style(ax, xticks=(), yticks=(), lw=3.0, ticklen=10, col=INK):
    for s in ('left', 'bottom'):
        ax.spines[s].set_linewidth(lw*P)
        ax.spines[s].set_color(col)
    ax.set_xticks(list(xticks)); ax.set_yticks(list(yticks))
    ax.set_xticklabels([]); ax.set_yticklabels([])
    ax.tick_params(direction='in', length=ticklen*P, width=lw*P, color=col)

ov = fig.add_axes([0, 0, 1, 1], zorder=20)
ov.set_xlim(0, W); ov.set_ylim(H, 0); ov.axis('off')

def T(x, y, s, size, ha='center', va='center', **kw):
    kw.setdefault('color', '#111111')
    return ov.text(x, y, s, fontsize=size, ha=ha, va=va, **kw)

def pbox(x0, y0, x1, y1, ec=INK, lw=3, fc='none', z=1):
    ov.add_patch(Rectangle((x0, y0), x1-x0, y1-y0, ec=ec, fc=fc, lw=lw*P, zorder=z))

def monkey(cx, cy, w=100, h=78):
    sx, sy = w/300, h/235
    ln = '#1c1c1c'
    pink = '#d9cece'
    ow = 3.0*P
    for dx in (-115, 115):
        ov.add_patch(Ellipse((cx+dx*sx, cy-8*sy), 78*sx, 100*sy, fc=pink, ec=ln, lw=ow*1.3, zorder=5))
    ov.add_patch(Ellipse((cx, cy), 196*sx, 235*sy, fc='#6a5a54', ec=ln, lw=ow*1.3, zorder=6))
    for (dx, dy, rx, ry) in [(-38, -30, 84, 84), (38, -30, 84, 84), (0, 32, 172, 118)]:
        ov.add_patch(Ellipse((cx+dx*sx, cy+dy*sy), rx*sx+2*ow, ry*sy+2*ow, fc=ln, ec='none', zorder=7))
    for (dx, dy, rx, ry) in [(-38, -30, 84, 84), (38, -30, 84, 84), (0, 32, 172, 118)]:
        ov.add_patch(Ellipse((cx+dx*sx, cy+dy*sy), rx*sx, ry*sy, fc=pink, ec='none', zorder=8))
    for dx in (-23, 25):
        ov.add_patch(Ellipse((cx+dx*sx, cy-2*sy), 24*sx, 26*sy, fc=ln, ec='none', zorder=9))
        ov.plot([cx+(dx-18)*sx, cx+(dx+18)*sx], [cy-28*sy, cy-28*sy+(-4 if dx < 0 else 4)*sy*-1], color=ln, lw=2.0*P, zorder=9)
    for dx in (-7, 7):
        ov.add_patch(Ellipse((cx+dx*sx, cy+24*sy), 14*sx, 14*sy, fc=ln, ec='none', zorder=9))
    mx = np.array([-36, -20, 0, 20, 38]); my = np.array([45, 51, 53, 51, 45])
    ov.plot(cx+mx*sx, cy+my*sy, color=ln, lw=2.5*P, zorder=9)

def human(cx, cy, w=74, h=79):
    sx, sy = w/210, h/235
    ln = '#151515'
    pink = '#dccfcf'
    ov.add_patch(FancyBboxPatch((cx-85*sx, cy-100*sy), 170*sx, 200*sy, boxstyle=f'round,pad={18*sx},rounding_size={50*sx}',
                                fc='#33403f', ec=ln, lw=3*P, zorder=5))
    ov.add_patch(Rectangle((cx-40*sx, cy+70*sy), 80*sx, 46*sy, fc=pink, ec=ln, lw=2.5*P, zorder=6))
    ov.add_patch(Ellipse((cx, cy+3*sy), 150*sx, 165*sy, fc=pink, ec=ln, lw=3.5*P, zorder=7))
    for dx in (-28, 28):
        ov.add_patch(Ellipse((cx+dx*sx, cy+2*sy), 26*sx, 14*sy, fc=ln, ec='none', zorder=8))
        ov.plot([cx+(dx-20)*sx, cx+(dx+20)*sx], [cy-18*sy, cy-18*sy], color=ln, lw=1.8*P, zorder=8)
    ov.add_patch(Ellipse((cx, cy+22*sy), 16*sx, 10*sy, fc=ln, ec='none', zorder=8))
    mx = np.array([-26, -10, 10, 26]); my = np.array([44, 50, 50, 44])
    ov.plot(cx+mx*sx, cy+my*sy, color=ln, lw=2*P, zorder=8)

# panel letters
for lab, x, y in [('A', 36, 60), ('B', 998, 85), ('C', 2494, 96), ('D', 36, 929),
                  ('E', 1506, 965), ('F', 2206, 925), ('G', 3256, 925)]:
    T(x, y, lab, 76, fontweight='bold')

# ================= Panel A =================
axA = fig.add_axes([0, 1-900/H, 1000/W, 900/H], zorder=2)
axA.set_xlim(0, 1568); axA.set_ylim(1568, 0); axA.axis('off')
axA.add_patch(Ellipse((845, 722), 314, 350, fc='#bcc5c5', ec='none', zorder=1))
axA.add_patch(Ellipse((845, 717), 28, 30, fc='black', ec='none', zorder=4))
axA.plot(*zip(*a_dash_blue), color='#4a94ee', lw=5*P, linestyle=(0, (37*P, 35*P)), zorder=2)
axA.plot(*zip(*a_dash_green), color=GREEN, lw=5*P, linestyle=(0, (38*P, 38*P)), zorder=2)
axA.plot(*zip(*a_green), color=GREEN, lw=9*P, zorder=3)
axA.plot(*zip(*a_brown), color=BROWN, lw=9*P, zorder=3)
axA.plot(*zip(*a_blue), color='#4a94ee', lw=9*P, zorder=3)
T(469, 55, 'Gain', 49, fontweight='bold')
T(469, 138, 'Manipulation', 49, fontweight='bold')
T(188, 224, 'Hypothetical', 39)
for tip in [(539, 238), (383, 306)]:
    ov.annotate('', xy=tip, xytext=(360, 225), arrowprops=dict(arrowstyle='->', color=INK, lw=3*P, mutation_scale=24, shrinkA=0, shrinkB=0))
T(207, 428, 'Gain Factor:', 44)
for y, c, lab in [(500, BROWN, '1×'), (548, GREEN, '1.5×'), (600, '#4a94ee', '2×')]:
    ov.plot([140, 192], [y, y], color=c, lw=15*P, zorder=3)
    T(213, y-3, lab, 32, ha='left')
ov.plot([137, 137, 284], [677, 811, 811], color=INK, lw=3*P)
T(165, 709, '1m', 32, rotation=270)
T(236, 784, '1m', 32)

# ================= Panel B =================
axB1 = axpx(1050, 223, 1600, 774)
axB1.set_xlim(0, 4); axB1.set_ylim(0, 4)
style(axB1, xticks=[1, 2, 3, 4], yticks=[1, 2, 3, 4], lw=3, ticklen=9)
axB1.spines['bottom'].set_color('#555f5f'); axB1.spines['bottom'].set_linewidth(4*P)
for pts, c in [(br_brown, BROWN), (br_green, '#45ee00'), (br_blue, BLUE)]:
    a = np.array(pts)
    axB1.scatter(a[:, 0], a[:, 1], s=72, color=c, lw=0, clip_on=False, zorder=3)
axB1.plot([0, 4], [0, 4], color='black', lw=3.2*P, linestyle=(0, (52*P, 33*P)), zorder=4)
pbox(1453, 561, 1609, 715, lw=4, fc='white', z=2)
for y, c in [(596, BROWN), (646, '#45ee00'), (691, BLUE)]:
    ov.add_patch(Circle((1479, y), 9, fc=c, ec='none', zorder=3))
T(1501, 593, '1×', 30, ha='left'); T(1503, 639, '1.5×', 30, ha='left'); T(1515, 686, '2×', 30, ha='left')
T(1321, 80, 'Angular', 50); T(1321, 152, 'eccentricity', 50)
T(966, 503, 'Response, $\\tilde{\\mathrm{r}}$(m)', 49, rotation=90)
T(1012, 232, '4', 44); T(1016, 769, '0', 44)
T(1047, 827, '0', 46); T(1315, 821, 'Target ,r(m)', 48); T(1593, 824, '4', 46)
monkey(1117, 294)

axB2 = axpx(1707, 211, 2283, 785)
axB2.set_xlim(-39.8, 40.2); axB2.set_ylim(-40.2, 39.9)
style(axB2, xticks=[-40, -20, 20, 40], yticks=[-40, -20, 20, 40], lw=3, ticklen=9)
axB2.spines['left'].set_position(('data', 0)); axB2.spines['bottom'].set_position(('data', 0))
for pts, c in [(bt_brown, BROWN), (bt_green, '#45ee00'), (bt_blue, BLUE)]:
    a = np.array(pts)
    axB2.scatter(a[:, 0], a[:, 1], s=68, color=c, lw=0, clip_on=False, zorder=3)
axB2.plot([-40, 40], [-40, 40], color='black', lw=3.2*P, linestyle=(0, (53*P, 33.5*P)), zorder=4)
T(1975, 63, 'Radial', 50); T(1975, 133, 'distance', 50)
T(1827, 253, 'Response,', 46); T(1824, 336, '$\\tilde{\\mathrm{\\theta}}$(deg)', 46)
T(2250, 542, 'Target,', 48); T(2264, 614, 'θ .(deg)', 48)

# ================= Panel C =================
T(3321, 41, 'ROC Curve', 56, fontweight='bold')
axC1 = axpx(2592, 184, 3258, 745)
axC1.set_xlim(0, 1); axC1.set_ylim(0, 1)
style(axC1, xticks=np.linspace(0, 1, 11), yticks=np.linspace(0, 1, 11), lw=3.5, ticklen=8)
axC1.plot([0, 1], [0, 1], color='black', lw=2.8*P, linestyle=(0, (71*P, 42*P)), zorder=1)
axC1.add_patch(Rectangle((.344, .043), .656, .744, fc='white', ec='none', zorder=2))
axC1.plot(*roc_m['brown'], color=BROWN, lw=8*P, zorder=3, clip_on=False)
axC1.plot(*roc_m['blue'], color=BLUE, lw=9*P, zorder=4, clip_on=False)
axC1.plot(*roc_m['green'], color=GREEN, lw=9*P, zorder=5, clip_on=False)
T(2925, 142, 'Monkeys', 47); T(2532, 439, 'True', 49, rotation=90)
T(2563, 203, '1', 42); T(2563, 729, '0', 42)
T(2604, 789, '0', 44); T(2946, 791, 'Shuffled', 42); T(3258, 789, '1', 44)

axC2 = axpx(3348, 176, 4005, 737)
axC2.set_xlim(0, 1); axC2.set_ylim(0, 1)
style(axC2, xticks=np.linspace(0, 1, 11), yticks=np.linspace(0, 1, 11), lw=3.5, ticklen=8)
axC2.plot([0, 1], [0, 1], color='black', lw=2.8*P, linestyle=(0, (71*P, 42*P)), zorder=1)
axC2.add_patch(Rectangle((.405, .02), .595, .632, fc='white', ec='none', zorder=2))
for cv in roc_h_thin_brown:
    axC2.plot(*cv, color=TBROWN, lw=3.5*P, zorder=3, clip_on=False)
for cv in roc_h_thin_blue:
    axC2.plot(*cv, color=TBLUE, lw=3.5*P, zorder=3, clip_on=False)
axC2.plot(*roc_h_brown, color=BROWN, lw=12*P, zorder=4, clip_on=False)
axC2.plot(*roc_h_blue, color=BLUE, lw=15*P, zorder=5, clip_on=False)
T(3611, 139, 'Humans', 47)
T(3312, 196, '1', 42); T(3312, 721, '0', 42)
T(3354, 783, '0', 44); T(3695, 784, 'Shuffled', 42); T(4007, 783, '1', 44)

def auc_inset(rect, pos, val, err, shuf, shuf_err, cols, lights, right):
    ax = axpx(*rect, z=3)
    ax.set_xlim(0, right); ax.set_ylim(.5, 1)
    style(ax, xticks=[], yticks=np.linspace(.5, 1, 6), lw=3, ticklen=7)
    ax.spines['bottom'].set_visible(False)
    for i, x in enumerate(pos):
        ax.bar(x, val[i]-.5, .815, bottom=.5, color=cols[i], edgecolor='#111111', lw=3*P, clip_on=False, zorder=2)
        ax.vlines(x, val[i], val[i]+err[i], color='#111111', lw=3*P, zorder=3)
        ax.vlines(x, val[i]-err[i], val[i], color='white', lw=3*P, zorder=3)
        if shuf[i] is not None:
            ax.bar(x, shuf[i]-.5, .815, bottom=.5, color=lights[i], edgecolor='#111111', lw=3*P, clip_on=False, zorder=3)
            ax.vlines(x, shuf[i], shuf[i]+shuf_err[i], color='#111111', lw=3*P, zorder=4)
            ax.vlines(x, shuf[i]-shuf_err[i], shuf[i], color='white', lw=3*P, zorder=4)

auc_inset((2907, 428, 3225, 715), [1.04, 2.05, 3.05], auc_m, auc_m_err, auc_m_shuf, auc_m_shuf_err,
          [BROWN, GREEN, BLUE], [None, LGREEN, LBLUE], 3.6)
auc_inset((3741, 427, 3942, 713), [.74, 1.74], auc_h, auc_h_err, auc_h_shuf, auc_h_shuf_err,
          [BROWN, BLUE], [None, LBLUE], 2.28)
T(2880, 442, '1', 35); T(2878, 694, '.5', 35); T(2869, 545, 'AUC', 43, rotation=90)
T(3716, 439, '1', 35); T(3709, 686, '.5', 35); T(3701, 542, 'AUC', 43, rotation=90)
for y, c, lab in [(367, BROWN, '1x'), (403, GREEN, '1.5x'), (443, BLUE, '2x')]:
    ov.plot([3086, 3125], [y, y], color=c, lw=15*P)
    T(3142, y-2, lab, 25, ha='left')
for y, c, lab in [(455, BROWN, '1x'), (500, BLUE, '2x')]:
    ov.plot([3866, 3905], [y, y], color=c, lw=15*P)
    T(3924, y-1, lab, 25, ha='left')

# ================= Panel D =================
axD = axpx(227, 952, 1443, 1762)
axD.set_xlim(0, 8.56); axD.set_ylim(0, 1.5)
style(axD, xticks=[], yticks=[.5, 1, 1.5], lw=3, ticklen=14, col='#333333')
axD.spines['bottom'].set_linewidth(4.5*P)
axD.bar(d_pos, d_val, 1.0, color=d_col, lw=0, zorder=2)
axD.axhline(1, color='#a9b4b4', lw=2.5*P, zorder=3)
for x, v, e in zip(d_pos, d_val, d_err):
    axD.vlines(x, v, v+e, color='#111111', lw=3.5*P, zorder=4)
    axD.vlines(x, v-e, v, color='white', lw=3.5*P, zorder=4)
axD.plot([5.62, 5.69], [1.5, .044], color='#aaaaaa', lw=2.5*P, linestyle=(0, (41*P, 51*P)), zorder=1)
T(208, 958, '1.5', 44, ha='right'); T(208, 1228, '1', 44, ha='right')
T(208, 1495, '.5', 44, ha='right'); T(208, 1752, '0', 44, ha='right')
T(100, 1336, 'Gain Compensation', 43.5, rotation=90); T(177, 1349, 'Index', 43.5, rotation=90)
T(603, 1815, 'Monkeys', 48); T(1287, 1808, 'Humans', 48)
pbox(435, 894, 901, 1188, lw=3.5, ec='black')
T(732, 929, 'Gain Factor', 37, fontweight='bold')
T(713, 981, '1.5×', 29); T(797, 980, '2×', 29)
T(490, 1045, 'Response', 38, fontweight='bold', rotation=90)
T(609, 1034, 'Linear', 26, rotation=-18); T(595, 1101, 'Angular', 26, rotation=-20)
for (x0, x1, y0, y1, c) in [(674, 749, 1003, 1079, GREEN), (749, 825, 1003, 1079, BLUE),
                             (674, 749, 1079, 1154, DGREEN), (749, 825, 1079, 1154, DBLUE)]:
    ov.add_patch(Rectangle((x0, y0), x1-x0, y1-y0, fc=c, ec='none'))

# ================= Panel E =================
def fill_band(ax, ux, uy, lx, ly, c, alpha, z):
    xs = np.array(list(ux) + list(lx)[::-1]); ys = np.array(list(uy) + list(ly)[::-1])
    ax.fill(xs, ys, color=c, alpha=alpha, lw=0, zorder=z)

axE1 = axpx(1684, 967, 2124, 1338)
axE1.set_xlim(0, 500); axE1.set_ylim(.6, .8)
style(axE1, xticks=[250, 500], yticks=[.65, .7, .75, .8], lw=3, ticklen=8)
fill_band(axE1, e1_gu_x, e1_gu_y, e1_gl_x, e1_gl_y, GREEN, .4, 1)
fill_band(axE1, e1_bu_x, e1_bu_y, e1_bl_x, e1_bl_y, BLUE, .3, 2)
axE1.plot(e1_g_x, e1_g_y, color=GREEN, lw=8.5*P, zorder=3, clip_on=False)
axE1.plot(e1_b_x, e1_b_y, color=BLUE, lw=8.5*P, zorder=3, clip_on=False)

axE2 = axpx(1681, 1411, 2124, 1765)
axE2.set_xlim(0, 500); axE2.set_ylim(.3, .9)
style(axE2, xticks=[250, 500], yticks=[.4, .5, .6, .7, .8, .9], lw=3, ticklen=8)
fill_band(axE2, e2_gu_x, e2_gu_y, e2_gl_x, e2_gl_y, GREEN, .3, 1)
fill_band(axE2, e2_bu_x, e2_bu_y, e2_bl_x, e2_bl_y, BLUE, .3, 2)
axE2.plot(e2_g_x, e2_g_y, color=GREEN, lw=8.5*P, zorder=3, clip_on=False)
axE2.plot(e2_b_x, e2_b_y, color=BLUE, lw=8.5*P, zorder=3, clip_on=False)
for y, s in [(981, '.8'), (1151, '.7'), (1317, '.6'), (1419, '.9'), (1585, '.6'), (1746, '.3')]:
    T(1671, y, s, 36, ha='right')
T(1778, 1011, 'Linear', 31); T(1806, 1418, 'Angular', 31)
T(1566, 1346, 'Gain Compensation Index', 41, rotation=90)
T(1692, 1806, '0', 41); T(2121, 1805, '500', 41); T(1916, 1830, 'Trials', 40)
T(1859, 1657, 'Gain Factor', 36, fontweight='bold')
T(1793, 1704, '1.5×', 34, color=GREEN, fontweight='bold')
T(1886, 1704, '2×', 34, color=BLUE, fontweight='bold')
monkey(2042, 1696)

# ================= Panel F =================
axF = axpx(2337, 1075, 3096, 1674)
axF.set_xlim(0, 3); axF.set_ylim(0, 1)
style(axF, xticks=[.5, 1, 1.5, 2, 2.5, 3], yticks=np.linspace(.1, 1, 10), lw=3, ticklen=9)
axF.plot(f_brown_x, f_brown_y, color=BROWN, lw=9*P, zorder=3, clip_on=False)
axF.plot(f_green_x, f_green_y, color=GREEN, lw=9*P, zorder=4, clip_on=False)
axF.plot(f_blue_x, f_blue_y, color='#4a94ee', lw=9*P, zorder=5, clip_on=False)
T(2708, 962, 'Distribution of', 53.5, fontweight='bold')
T(2716, 1037, 'travel times', 53.5, fontweight='bold')
T(2308, 1089, '1', 44); T(2308, 1655, '0', 44)
T(2339, 1728, '0', 49); T(2588, 1717, '1', 35); T(2845, 1719, '2', 35)
T(2739, 1797, 'Movement Duration(s)', 54)
T(2202, 1357, 'Cumulative', 50, rotation=90); T(2283, 1366, 'prob.', 50, rotation=90)
T(2530, 1190, 'Gain Factor:', 42)
for y, c, lab, ty in [(1243, BROWN, '1×', 1239), (1287, GREEN, '1.5×', 1284), (1337, '#4a94ee', '2×', 1332)]:
    ov.plot([2467, 2515], [y, y], color=c, lw=15*P)
    T(2544, ty, lab, 31, ha='left')
monkey(2416, 1577)

axF2 = axpx(2835, 1285, 3219, 1587, z=3)
axF2.set_xlim(0, 12); axF2.set_ylim(0, 1)
style(axF2, xticks=[4, 8, 12], yticks=[.2, .4, .6, .8, 1], lw=3, ticklen=7)
axF2.plot(fi_blue_x, fi_blue_y, color='#4a94ee', lw=9*P, zorder=3, clip_on=False)
axF2.plot(fi_brown_x, fi_brown_y, color=BROWN, lw=9*P, zorder=4, clip_on=False)
T(2815, 1308, '1', 29); T(2814, 1571, '0', 29); T(2854, 1621, '0', 29); T(3206, 1616, '12', 29)
T(2967, 1260, 'Humans', 40)
human(2885, 1493)

# ================= Panel G =================
axG = axpx(3466, 1060, 4080, 1724)
axG.set_xlim(-.6, .6); axG.set_ylim(0, 4.025)
style(axG, xticks=[-.6, -.4, -.2, .2, .4, .6], yticks=[], lw=3, ticklen=13)
axG.spines['left'].set_visible(False)
axG.axvline(0, color=INK, lw=3.5*P, zorder=2)
for i, y in enumerate(g_sep):
    axG.hlines(y, -.688 if i == 0 else -.6, .6, color='#cfe2f5', lw=4*P, zorder=1, clip_on=False)
axG.hlines(g_vel_row, np.array(g_vel)-g_vel_err, np.array(g_vel)+g_vel_err, color=INK, lw=4*P, zorder=3)
axG.hlines(g_dist_row, np.array(g_dist)-g_dist_err, np.array(g_dist)+g_dist_err, color=INK, lw=4*P, zorder=3)
axG.scatter(g_vel, g_vel_row, s=400, color=PURPLE, lw=0, zorder=4)
axG.scatter(g_dist, g_dist_row, s=400, color=CYAN, lw=0, zorder=4)
for x, s, sz in [(3459, '-.6', 37), (3562, '-.4', 31), (3665, '-.2', 31), (3777, '0', 31),
                 (3878, '.2', 31), (3974, '.4', 31), (4074, '.6', 37)]:
    T(x, 1763, s, sz)
T(3771, 1857, 'Weights', 53)
pbox(3422, 886, 4100, 987, ec='#5f7373', lw=3.5)
ov.add_patch(Circle((3461, 936), 17.5, fc=PURPLE, ec='none'))
ov.add_patch(Circle((3786, 936), 17.5, fc=CYAN, ec='none'))
T(3487, 931, 'Velocity', 48, ha='left'); T(3832, 931, 'Distance', 48, ha='left')
T(3341, 1097, 'Humans', 42, fontweight='bold', rotation=90)
T(3334, 1465, 'Monkeys', 41, fontweight='bold', rotation=90)
ov.plot([3389, 3389], [987, 1174], color=INK, lw=5*P)
ov.plot([3382, 3382], [1271, 1699], color=INK, lw=5*P)
T(3424, 1273, 'S', 46, rotation=90); T(3427, 1463, 'B', 46, rotation=90); T(3424, 1670, 'Q', 46, rotation=90)

fig.savefig('out.png', dpi=100, facecolor='white')
